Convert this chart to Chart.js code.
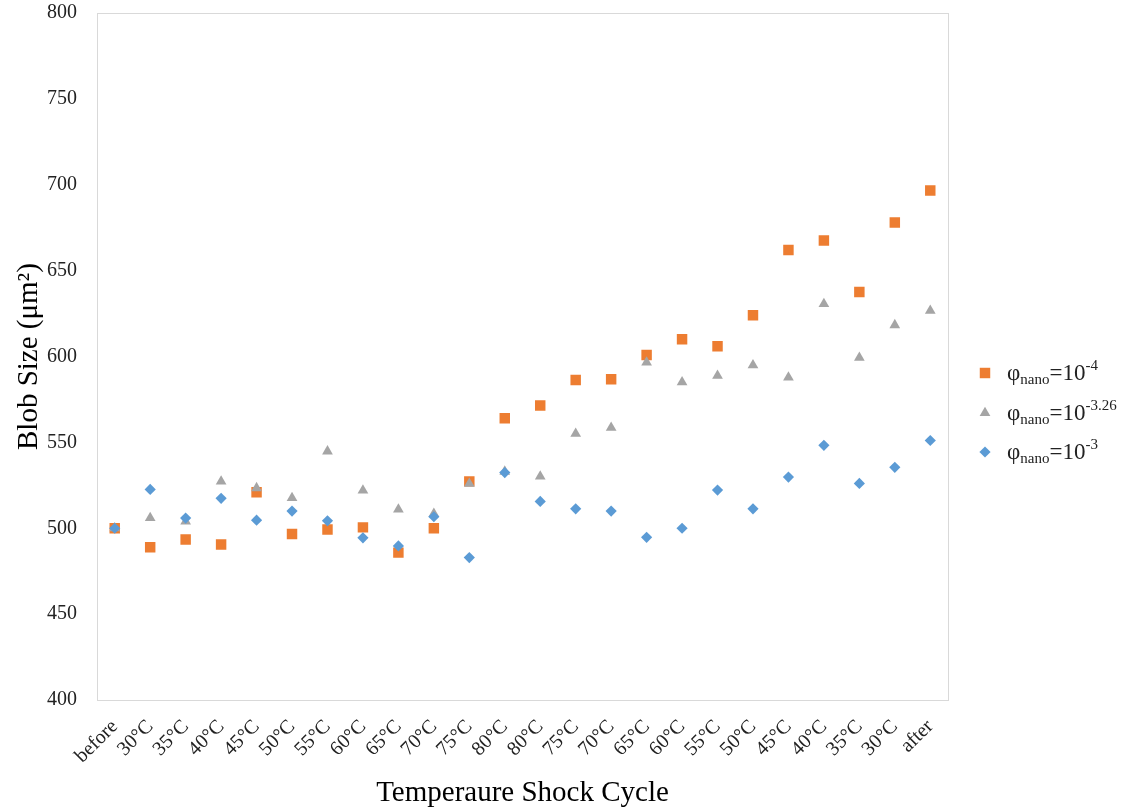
<!DOCTYPE html>
<html>
<head>
<meta charset="utf-8">
<title>Blob Size vs Temperature Shock Cycle</title>
<script src="https://cdn.jsdelivr.net/npm/chart.js@4.4.0/dist/chart.umd.min.js"></script>
<style>
  html, body { margin: 0; padding: 0; background: #fff; }
  #wrap { width: 1128px; height: 811px; }
</style>
</head>
<body>
<div id="wrap"><canvas id="blobChart" width="1128" height="811"></canvas></div>
<script>
// x categories: heating up to 80°C, then cooling back down
const cycleLabels = ['before', '30°C', '35°C', '40°C', '45°C', '50°C', '55°C', '60°C', '65°C', '70°C', '75°C', '80°C',
                     '80°C', '75°C', '70°C', '65°C', '60°C', '55°C', '50°C', '45°C', '40°C', '35°C', '30°C', 'after']

// blob size (µm²) for each nanoparticle volume fraction
const blobPhi4 = [500, 489, 493.4, 490.5, 521, 496.7, 499.3, 500.5, 485.8, 500, 527.3, 564,
                  571.5, 586.3, 586.7, 600.9, 610, 606, 624, 662, 667.6, 637.5, 678, 696.6]
const blobPhi326 = [500, 506, 504, 527.3, 523.4, 517.6, 544.8, 522, 511, 508.5, 526, 533,
                    530.2, 555.1, 558.6, 596.6, 585.1, 588.8, 595, 587.8, 630.6, 599.3, 618.3, 626.7]
const blobPhi3 = [500, 522.6, 505.9, 517.4, 504.7, 510, 504.3, 494.4, 489.7, 506.7, 482.9, 532.4,
                  515.6, 511.3, 510, 494.7, 500, 522.2, 511.3, 529.8, 548.3, 526.1, 535.5, 551.1]

const yTicks = [400, 450, 500, 550, 600, 650, 700, 750, 800]
const phiExponents = ['-4', '-3.26', '-3']

const seriesColors = ['#ED7D31', '#A5A5A5', '#5B9BD5']
const seriesMarkers = ['rect', 'triangle', 'rectRot']
const markerRadius = {rect: 7.4, triangle: 6.2, rectRot: 5.6}

const SERIF = '"Liberation Serif", "Times New Roman", serif'

// thin grey box around the plot area
const plotFrame = {
    id: 'plotFrame',
    beforeDatasetsDraw(chart) {
        const {ctx, chartArea: a} = chart
        ctx.save()
        ctx.strokeStyle = '#D9D9D9'
        ctx.lineWidth = 1
        ctx.strokeRect(Math.round(a.left) + 0.5, Math.round(a.top) + 0.5,
            Math.round(a.right - a.left), Math.round(a.bottom - a.top))
        ctx.restore()
    }
}

function drawMarker(ctx, style, x, y, r) {
    ctx.beginPath()
    if (style === 'rect') {
        const s = Math.SQRT1_2 * r
        ctx.rect(x - s, y - s, 2 * s, 2 * s)
    } else if (style === 'triangle') {
        ctx.moveTo(x, y - r)
        ctx.lineTo(x + r * Math.sin(Math.PI * 2 / 3), y + r / 2)
        ctx.lineTo(x - r * Math.sin(Math.PI * 2 / 3), y + r / 2)
        ctx.closePath()
    } else {
        ctx.moveTo(x - r, y)
        ctx.lineTo(x, y - r)
        ctx.lineTo(x + r, y)
        ctx.lineTo(x, y + r)
        ctx.closePath()
    }
    ctx.fill()
}

// legend with φ_nano = 10^exp, needs sub- and superscripts so it is drawn by hand
const phiLegend = {
    id: 'phiLegend',
    afterDraw(chart) {
        const {ctx} = chart
        const rows = [373, 413, 452]
        ctx.save()
        ctx.textAlign = 'left'
        ctx.textBaseline = 'alphabetic'
        chart.data.datasets.forEach((ds, i) => {
            const y = rows[i]
            ctx.fillStyle = seriesColors[i]
            drawMarker(ctx, seriesMarkers[i], 985, y, markerRadius[seriesMarkers[i]])

            const base = y + 7
            let x = 1007
            ctx.fillStyle = '#222'
            ctx.font = '23px ' + SERIF
            ctx.fillText('φ', x, base)
            x += ctx.measureText('φ').width
            ctx.font = '15px ' + SERIF
            ctx.fillText('nano', x, base + 4)
            x += ctx.measureText('nano').width
            ctx.font = '23px ' + SERIF
            ctx.fillText('=10', x, base)
            x += ctx.measureText('=10').width
            ctx.font = '15px ' + SERIF
            ctx.fillText(phiExponents[i], x, base - 10)
        })
        ctx.restore()
    }
}

const seriesData = [blobPhi4, blobPhi326, blobPhi3]

const datasets = seriesData.map((values, i) => ({
    label: 'φnano=10' + phiExponents[i],
    data: values,
    showLine: false,
    pointStyle: seriesMarkers[i],
    pointRadius: markerRadius[seriesMarkers[i]],
    pointHoverRadius: markerRadius[seriesMarkers[i]],
    pointBackgroundColor: seriesColors[i],
    pointBorderColor: seriesColors[i],
    pointBorderWidth: 0,
    backgroundColor: seriesColors[i],
    borderColor: seriesColors[i],
    // blue on top, then grey, orange underneath
    order: 3 - i
}))

new Chart(document.getElementById('blobChart'), {
    type: 'line',
    data: {labels: cycleLabels, datasets: datasets},
    options: {
        responsive: false,
        animation: false,
        layout: {padding: {left: 0, right: 180, top: 13, bottom: 0}},
        plugins: {
            legend: {display: false},
            tooltip: {enabled: false}
        },
        scales: {
            x: {
                type: 'category',
                offset: true,
                grid: {display: false, drawTicks: false},
                border: {display: false},
                ticks: {
                    autoSkip: false,
                    minRotation: 45,
                    maxRotation: 45,
                    padding: 15,
                    color: '#222',
                    font: {family: SERIF, size: 20}
                },
                title: {
                    display: true,
                    text: 'Temperaure Shock Cycle',
                    color: '#000',
                    font: {family: SERIF, size: 29},
                    padding: {top: 0, bottom: 0}
                },
                afterFit(scale) { scale.height = 111 }
            },
            y: {
                min: 400,
                max: 800,
                grid: {display: false, drawTicks: false},
                border: {display: false},
                afterBuildTicks(scale) { scale.ticks = yTicks.map(v => ({value: v})) },
                ticks: {
                    padding: 20,
                    color: '#222',
                    font: {family: SERIF, size: 20}
                },
                title: {
                    display: true,
                    text: 'Blob Size (μm²)',
                    color: '#000',
                    font: {family: SERIF, size: 29},
                    padding: {top: 12, bottom: 0}
                },
                afterFit(scale) {
                    scale.width = 97
                    // top label may overhang the frame, keep the plot top where it is
                    scale.paddingTop = 0
                    scale.paddingBottom = 0
                }
            }
        }
    },
    plugins: [plotFrame, phiLegend]
})
</script>
</body>
</html>
